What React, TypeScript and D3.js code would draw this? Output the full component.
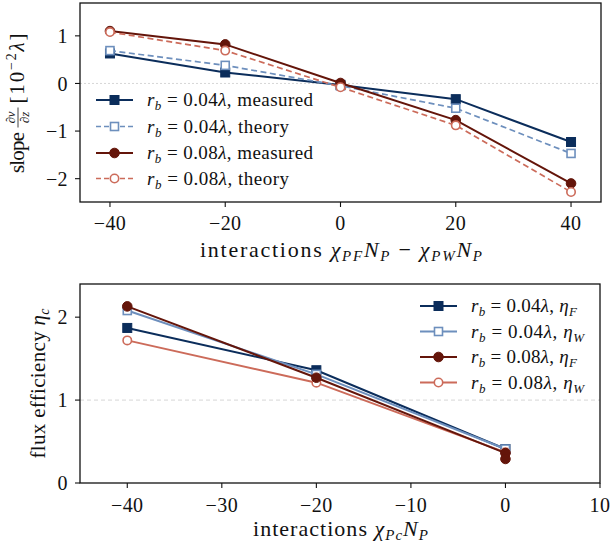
import React from "react";
import * as d3 from "d3";

// ---------- DATA ----------
const topX = [-40, -20, 0, 20, 40];
const measured004 = [0.63, 0.23, -0.03, -0.33, -1.23];
const theory004 = [0.69, 0.38, -0.05, -0.52, -1.47];
const measured008 = [1.1, 0.82, 0.01, -0.77, -2.1];
const theory008 = [1.08, 0.69, -0.08, -0.88, -2.28];
const topXTicks = [-40, -20, 0, 20, 40];
const topYTicks = [-2, -1, 0, 1];

const botX004 = [-40, -20, 0];
const etaF004 = [1.87, 1.36, 0.41];
const etaW004 = [2.08, 1.31, 0.41];
const botXF008 = [-40, -20, 0, 0];
const etaF008 = [2.13, 1.27, 0.36, 0.29];
const botX008 = [-40, -20, 0];
const etaW008 = [1.72, 1.21, 0.37];
const botXTicks = [-40, -30, -20, -10, 0, 10];
const botYTicks = [0, 1, 2];

const NAVY = "#0b2d5b";
const LIGHT = "#6d8fbd";
const DRED = "#64150a";
const SALMON = "#cc6b5a";
const FONT = "'Liberation Serif', 'DejaVu Serif', serif";

type Series = {
  xs: number[];
  ys: number[];
  color: string;
  dashed: boolean;
  marker: "square" | "circle";
  filled: boolean;
};

function Marker({ x, y, s }: { x: number; y: number; s: Series }) {
  const fill = s.filled ? s.color : "white";
  if (s.marker === "square") {
    const h = s.filled ? 4.5 : 4;
    return (
      <rect x={x - h} y={y - h} width={2 * h} height={2 * h} fill={fill} stroke={s.color} strokeWidth={s.filled ? 1 : 1.6} />
    );
  }
  return <circle cx={x} cy={y} r={s.filled ? 4.8 : 4.2} fill={fill} stroke={s.color} strokeWidth={s.filled ? 1 : 1.6} />;
}

function Panel({
  x0, x1, y0, y1, xDomain, yDomain, xTicks, yTicks, series, gridY, gridDash, tickFont, xLabelOff,
}: {
  x0: number; x1: number; y0: number; y1: number;
  xDomain: [number, number]; yDomain: [number, number];
  xTicks: number[]; yTicks: number[]; series: Series[]; gridY: number; gridDash: string; tickFont: number; xLabelOff: number;
}) {
  const xs = d3.scaleLinear().domain(xDomain).range([x0, x1]);
  const ys = d3.scaleLinear().domain(yDomain).range([y1, y0]);
  const fmt = (v: number) => (v < 0 ? "\u2212" + Math.abs(v) : String(v));
  return (
    <g>
      <line x1={x0} x2={x1} y1={ys(gridY)} y2={ys(gridY)} stroke="#cccccc" strokeWidth={0.8} strokeDasharray={gridDash} />
      {series.map((s, i) => {
        const line = d3
          .line<number>()
          .x((_, k) => xs(s.xs[k]))
          .y((v) => ys(v));
        return (
          <g key={i}>
            <path d={line(s.ys) || ""} fill="none" stroke={s.color} strokeWidth={s.dashed ? 1.7 : 2} strokeDasharray={s.dashed ? "6,3.5" : undefined} />
            {s.ys.map((v, k) => (
              <Marker key={k} x={xs(s.xs[k])} y={ys(v)} s={s} />
            ))}
          </g>
        );
      })}
      <rect x={x0} y={y0} width={x1 - x0} height={y1 - y0} fill="none" stroke="#111" strokeWidth={1.3} />
      {xTicks.map((t) => (
        <g key={"x" + t}>
          <line x1={xs(t)} x2={xs(t)} y1={y1} y2={y1 + 5} stroke="#111" strokeWidth={1.1} />
          <text x={xs(t)} y={y1 + xLabelOff} textAnchor="middle" fontSize={tickFont} fontFamily={FONT} fill="#111" letterSpacing={0.4}>
            {fmt(t)}
          </text>
        </g>
      ))}
      {yTicks.map((t) => (
        <g key={"y" + t}>
          <line x1={x0 - 5} x2={x0} y1={ys(t)} y2={ys(t)} stroke="#111" strokeWidth={1.1} />
          <text x={x0 - 12} y={ys(t)} dy="0.36em" textAnchor="end" fontSize={tickFont} fontFamily={FONT} fill="#111" letterSpacing={0.4}>
            {fmt(t)}
          </text>
        </g>
      ))}
    </g>
  );
}

function LegendRow({ x, y, s, len, children }: { x: number; y: number; s: Series; len: number; children: React.ReactNode }) {
  return (
    <g>
      <line x1={x} x2={x + 37} y1={y} y2={y} stroke={s.color} strokeWidth={s.dashed ? 1.7 : 2} strokeDasharray={s.dashed ? "5,3" : undefined} />
      <Marker x={x + 18.5} y={y} s={s} />
      <text x={x + 51} y={y + 6} fontSize={19} fontFamily={FONT} fill="#111" textLength={len} lengthAdjust="spacing">
        {children}
      </text>
    </g>
  );
}

function RB({ v }: { v: string }) {
  return (
    <>
      <tspan fontStyle="italic">r</tspan>
      <tspan fontSize={13} fontStyle="italic" dy={4}>b</tspan>
      <tspan dy={-4}>{" = " + v}</tspan>
      <tspan fontStyle="italic">λ</tspan>
    </>
  );
}

export default function App() {
  const topSeries: Series[] = [
    { xs: topX, ys: measured004, color: NAVY, dashed: false, marker: "square", filled: true },
    { xs: topX, ys: theory004, color: LIGHT, dashed: true, marker: "square", filled: false },
    { xs: topX, ys: measured008, color: DRED, dashed: false, marker: "circle", filled: true },
    { xs: topX, ys: theory008, color: SALMON, dashed: true, marker: "circle", filled: false },
  ];
  const botSeries: Series[] = [
    { xs: botX004, ys: etaF004, color: NAVY, dashed: false, marker: "square", filled: true },
    { xs: botX004, ys: etaW004, color: LIGHT, dashed: false, marker: "square", filled: false },
    { xs: botX008, ys: etaW008, color: SALMON, dashed: false, marker: "circle", filled: false },
    { xs: botXF008, ys: etaF008, color: DRED, dashed: false, marker: "circle", filled: true },
  ];
  const botLegend = [botSeries[0], botSeries[1], botSeries[3], botSeries[2]];
  return (
    <svg width={611} height={547} style={{ position: "absolute", left: 0, top: 0, background: "white" }}>
      <Panel x0={80} x1={601} y0={3} y1={202} xDomain={[-45.2, 45.2]} yDomain={[-2.49, 1.69]} xTicks={topXTicks} yTicks={topYTicks} series={topSeries} gridY={0} gridDash="2,2" tickFont={20} xLabelOff={28} />
      <Panel x0={80} x1={600} y0={284} y1={483} xDomain={[-45, 10]} yDomain={[0, 2.4]} xTicks={botXTicks} yTicks={botYTicks} series={botSeries} gridY={1} gridDash="4,3" tickFont={20} xLabelOff={29} />

      {/* top legend */}
      <LegendRow x={96} y={100} s={topSeries[0]} len={166}><RB v="0.04" />, measured</LegendRow>
      <LegendRow x={96} y={126.5} s={topSeries[1]} len={142}><RB v="0.04" />, theory</LegendRow>
      <LegendRow x={96} y={153} s={topSeries[2]} len={166}><RB v="0.08" />, measured</LegendRow>
      <LegendRow x={96} y={178.5} s={topSeries[3]} len={142}><RB v="0.08" />, theory</LegendRow>

      {/* bottom legend */}
      <LegendRow x={420} y={306} s={botLegend[0]} len={106}>
        <RB v="0.04" />, <tspan fontStyle="italic">η</tspan><tspan fontSize={13} fontStyle="italic" dy={4}>F</tspan>
      </LegendRow>
      <LegendRow x={420} y={331.5} s={botLegend[1]} len={113}>
        <RB v="0.04" />, <tspan fontStyle="italic">η</tspan><tspan fontSize={13} fontStyle="italic" dy={4}>W</tspan>
      </LegendRow>
      <LegendRow x={420} y={357} s={botLegend[2]} len={106}>
        <RB v="0.08" />, <tspan fontStyle="italic">η</tspan><tspan fontSize={13} fontStyle="italic" dy={4}>F</tspan>
      </LegendRow>
      <LegendRow x={420} y={382.5} s={botLegend[3]} len={113}>
        <RB v="0.08" />, <tspan fontStyle="italic">η</tspan><tspan fontSize={13} fontStyle="italic" dy={4}>W</tspan>
      </LegendRow>

      {/* top x label */}
      <text x={200} y={257} fontSize={22} fontFamily={FONT} fill="#111" textLength={282} lengthAdjust="spacing">
        interactions <tspan fontStyle="italic">χ</tspan>
        <tspan fontSize={15} fontStyle="italic" dy={4}>PF</tspan>
        <tspan fontStyle="italic" dy={-4}>N</tspan>
        <tspan fontSize={15} fontStyle="italic" dy={4}>P</tspan>
        <tspan dy={-4}>{" \u2212 "}</tspan>
        <tspan fontStyle="italic">χ</tspan>
        <tspan fontSize={15} fontStyle="italic" dy={4}>PW</tspan>
        <tspan fontStyle="italic" dy={-4}>N</tspan>
        <tspan fontSize={15} fontStyle="italic" dy={4}>P</tspan>
      </text>

      {/* bottom x label */}
      <text x={253} y={536} fontSize={22} fontFamily={FONT} fill="#111" textLength={175} lengthAdjust="spacing">
        interactions <tspan fontStyle="italic">χ</tspan>
        <tspan fontSize={15} fontStyle="italic" dy={4}>Pc</tspan>
        <tspan fontStyle="italic" dy={-4}>N</tspan>
        <tspan fontSize={15} fontStyle="italic" dy={4}>P</tspan>
      </text>

      {/* top y label */}
      <g transform="translate(24,102.5) rotate(-90)" fontFamily={FONT} fill="#111">
        <text x={-70.5} y={0} fontSize={21} textLength={41} lengthAdjust="spacing">slope</text>
        <text x={-15} y={-9} textAnchor="middle" fontSize={13} fontStyle="italic">∂v</text>
        <line x1={-25} x2={-5} y1={-6} y2={-6} stroke="#111" strokeWidth={0.8} />
        <text x={-15} y={5} textAnchor="middle" fontSize={13} fontStyle="italic">∂z</text>
        <text x={-1} y={0} fontSize={21} textLength={70} lengthAdjust="spacing">
          [10<tspan fontSize={14} dy={-8}>{"\u22122"}</tspan>
          <tspan dy={8} fontStyle="italic">λ</tspan>]
        </text>
      </g>

      {/* bottom y label */}
      <g transform="translate(45,383.5) rotate(-90)" fontFamily={FONT} fill="#111">
        <text x={-75} y={0} fontSize={21} textLength={150} lengthAdjust="spacing">
          flux efficiency <tspan fontStyle="italic">η</tspan>
          <tspan fontSize={14} fontStyle="italic" dy={4}>c</tspan>
        </text>
      </g>
    </svg>
  );
}
